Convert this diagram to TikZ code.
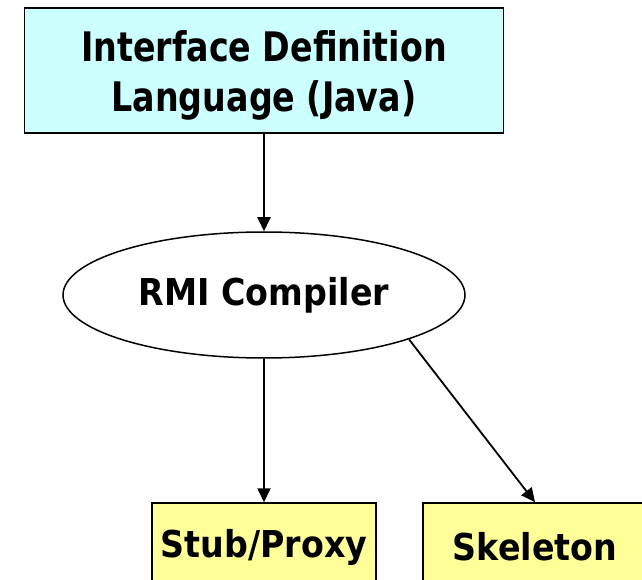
\documentclass[tikz,border=0pt]{standalone}
\usepackage{fontspec}
\usepackage{graphicx}
\setmainfont{DejaVu Sans Condensed}
\usetikzlibrary{arrows.meta,shapes.geometric}
\definecolor{idlfill}{HTML}{CCFFFF}
\definecolor{outfill}{HTML}{FFFF99}
\newcommand{\tall}[1]{\scalebox{1}[1.1]{#1}}
\tikzset{
  lbl/.style={font=\fontsize{37}{44}\selectfont\bfseries, align=center, inner sep=0pt},
  box/.style={lbl, draw=black, line width=1.5pt},
  flow/.style={-{Triangle[length=14pt,width=13pt]}, line width=1.8pt},
}
\begin{document}
\begin{tikzpicture}[x=1pt,y=1pt]
  \useasboundingbox (0,0) rectangle (642,579);
  \clip (0,0) rectangle (642,579);
  % input definition
  \node[box, fill=idlfill, minimum width=479pt, minimum height=125pt] (idl) at (264,508.5) {};
  \node[lbl, font=\fontsize{37}{50}\selectfont\bfseries] (idltext) at ([yshift=-5pt]idl.center)
    {\tall{Interface Definition}\\\tall{Language (Java)}};
  % compiler
  \node[lbl, draw=black, line width=1.5pt, ellipse, inner sep=0pt, minimum width=402pt, minimum height=126pt] (rmic) at (264,284) {RMI Compiler};
  % generated outputs
  \node[box, fill=outfill, minimum width=224pt, minimum height=88pt] (stub) at (264,32) {Stub/Proxy};
  \node[box, fill=outfill, minimum width=224pt, minimum height=88pt] (skel) at (535,32) {Skeleton};
  % connectors
  \draw[flow] (idl.south) -- (rmic.north);
  \draw[flow] (rmic.south) -- (stub.north);
  \draw[flow] (rmic.-17.6) -- (skel.north);
\end{tikzpicture}
\end{document}
